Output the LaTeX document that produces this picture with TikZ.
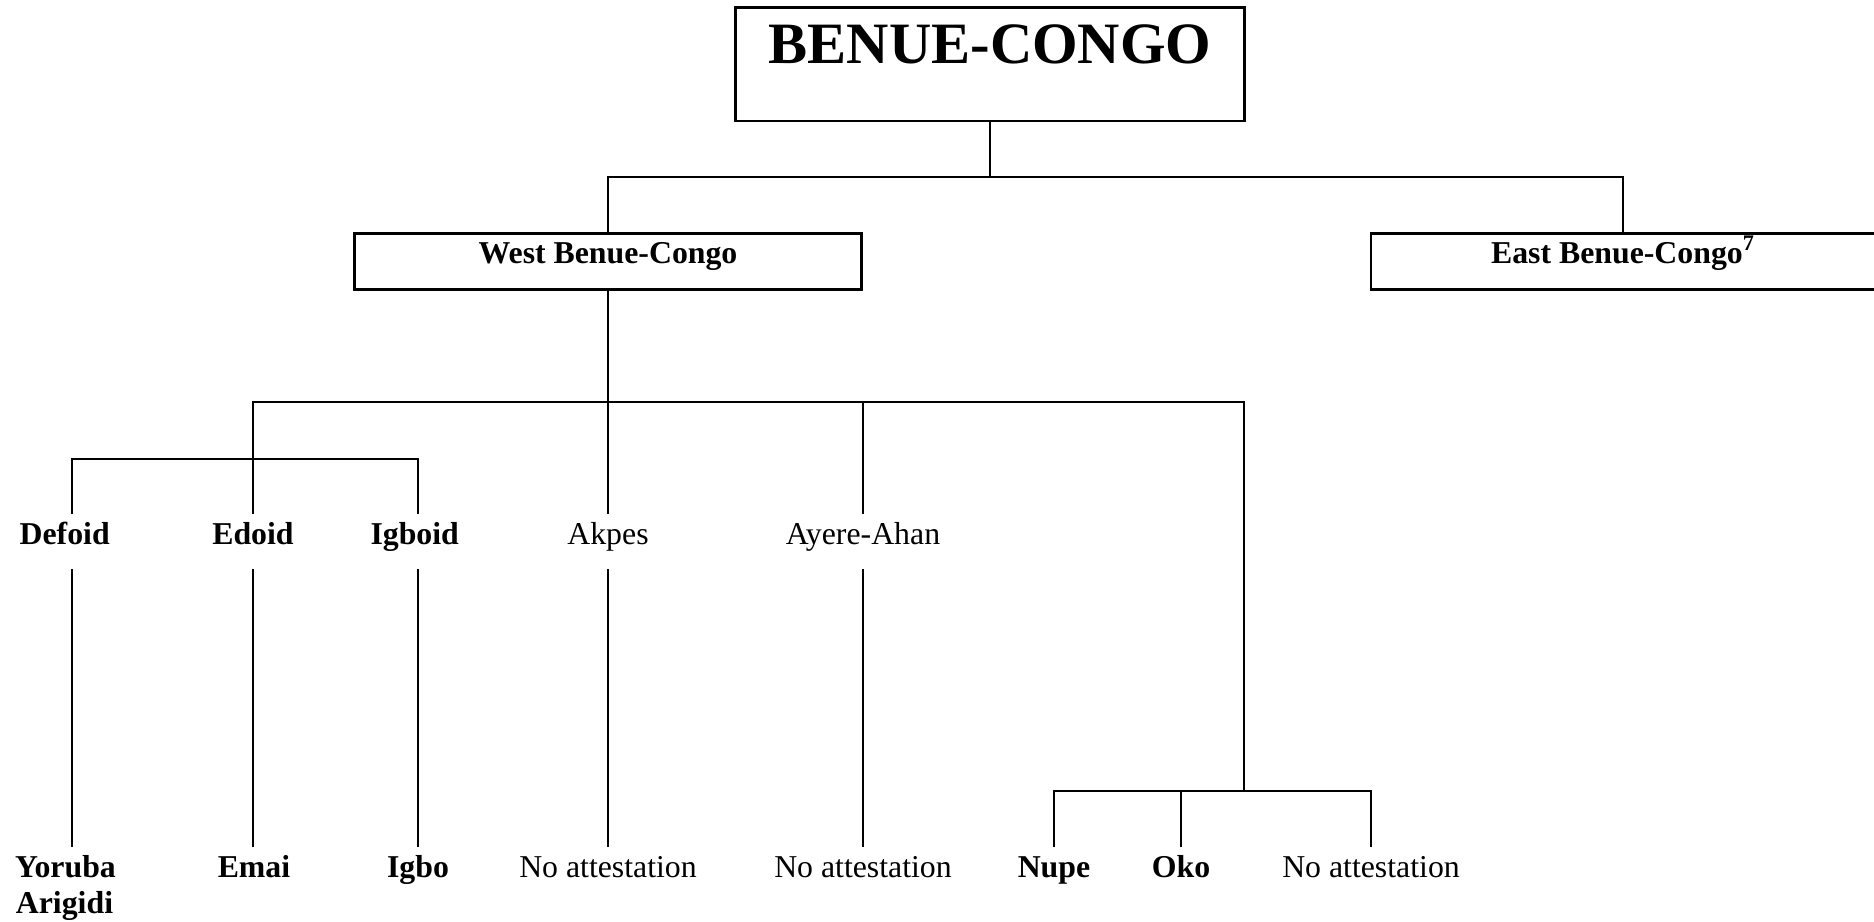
\documentclass[tikz,border=0pt]{standalone}
\usepackage{fontspec}
\setmainfont{Liberation Serif}
\begin{document}
\begin{tikzpicture}[x=0.5pt,y=-0.5pt,
  line width=1.2pt,
  lab/.style={inner sep=0pt,outer sep=0pt,anchor=north,
    font=\fontsize{15.9}{19}\selectfont,text height=14.85pt,text depth=12.65pt},
  blab/.style={lab,font=\fontsize{15.9}{19}\selectfont\bfseries},
  titlebox/.style={draw,inner sep=0pt,outer sep=0pt,anchor=north,
    minimum width=254.65pt,text height=28pt,text depth=28.7pt,
    font=\fontsize{29.3}{34}\selectfont\bfseries},
  subbox/.style={draw,inner sep=0pt,outer sep=0pt,anchor=north,
    text height=14.9pt,text depth=13pt,
    font=\fontsize{15.9}{19}\selectfont\bfseries}]
\useasboundingbox (0,0) rectangle (1874,921);

% boxes
\node[titlebox] (bc) at (990,7.3) {BENUE-CONGO};
\node[subbox,minimum width=253.5pt] (wbc) at (608,233.5) {West Benue-Congo};
\node[subbox,minimum width=252.3pt] (ebc) at (1623,233.5) {East Benue-Congo\textsuperscript{7}};

% branch levels
\coordinate (l1) at (0,176.7);
\coordinate (l2) at (0,401.7);
\coordinate (l3) at (0,459);
\coordinate (l4) at (0,790.7);

% middle row
\node[blab] (defoid) at (64.7,514.3) {Defoid};
\node[blab] (edoid) at (253,514.3) {Edoid};
\node[blab] (igboid) at (414.7,514.3) {Igboid};
\node[lab] (akpes) at (608,514.3) {Akpes};
\node[lab] (ayere) at (863,514.3) {Ayere-Ahan};

% bottom row
\node[blab] (yoruba) at (65.5,847.3) {Yoruba};
\node[blab,anchor=base] (arigidi) at (64.5,913) {Arigidi};
\node[blab] (emai) at (254,847.3) {Emai};
\node[blab] (igbo) at (418,847.3) {Igbo};
\node[lab] (na1) at (608,847.3) {No attestation};
\node[lab] (na2) at (863,847.3) {No attestation};
\node[blab] (nupe) at (1054,847.3) {Nupe};
\node[blab] (oko) at (1181,847.3) {Oko};
\node[lab] (na3) at (1371,847.3) {No attestation};

% junction columns
\coordinate (jd) at (72,459);
\coordinate (ji) at (418,459);
\coordinate (jn) at (1244,790.7);

% top level
\draw (bc.south) -- (bc.south |- l1);
\draw (wbc.north) -- (wbc.north |- l1) -- (ebc.north |- l1) -- (ebc.north);

% West Benue-Congo
\draw (wbc.south) -- (akpes.north);
\draw (edoid.north) -- (edoid.north |- l2) -- (jn |- l2) -- (jn);
\draw (ayere.north |- l2) -- (ayere.north);
\draw (jd |- defoid.north) -- (jd) -- (ji) -- (ji |- igboid.north);

% descendants
\draw (jd |- defoid.south) -- (jd |- yoruba.north);
\draw (edoid.south) -- (edoid.south |- emai.north);
\draw (ji |- igboid.south) -- (ji |- igbo.north);
\draw (akpes.south) -- (na1.north);
\draw (ayere.south) -- (na2.north);

% Nupoid group
\draw (nupe.north) -- (nupe.north |- l4) -- (na3.north |- l4) -- (na3.north);
\draw (oko.north) -- (oko.north |- l4);
\end{tikzpicture}
\end{document}
